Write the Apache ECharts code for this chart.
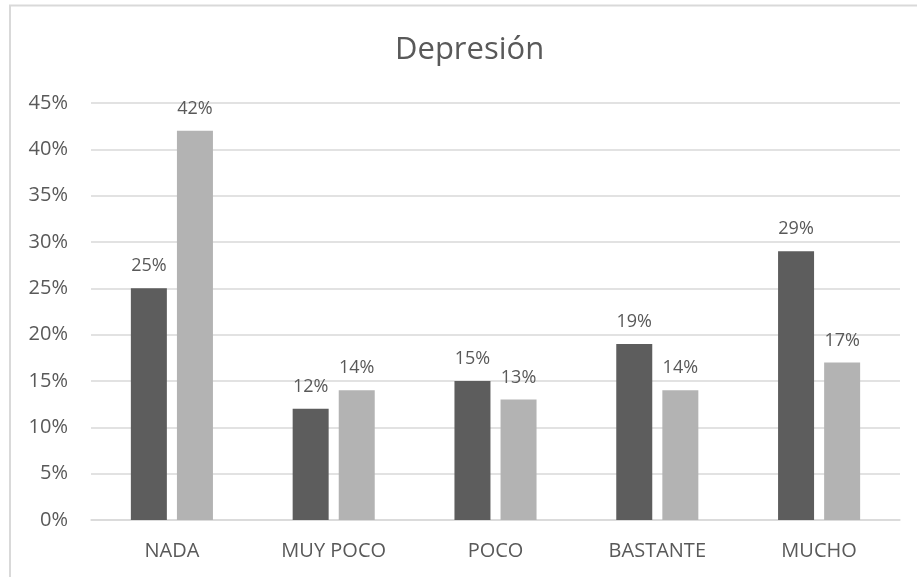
<!DOCTYPE html>
<html><head><meta charset="utf-8">
<script src="https://cdn.jsdelivr.net/npm/echarts@6/dist/echarts.min.js"></script>
<style>html,body{margin:0;padding:0;background:#fff}#c{width:917px;height:577px}</style>
</head><body><div id="c"></div>
<script>
const categories = ['NADA', 'MUY POCO', 'POCO', 'BASTANTE', 'MUCHO'];
const series1 = [25, 12, 15, 19, 29];
const series2 = [42, 14, 13, 14, 17];
const yTicks = {min: 0, max: 45, interval: 5};

const chart = echarts.init(document.getElementById('c'));
const txt = '#595959';
const font = 'Open Sans';
chart.setOption({
  animation: false,
  backgroundColor: '#fff',
  title: {text: 'Depresión', left: 390, top: 30,
    textStyle: {color: txt, fontFamily: font, fontSize: 31, fontWeight: 'normal'}},
  graphic: [{type: 'polyline', shape: {points: [[10, 577], [10, 5.5], [917, 5.5]]},
    style: {stroke: '#d9d9d9', lineWidth: 2, fill: null}}],
  grid: {left: 91, right: 17, top: 103, bottom: 57, containLabel: false},
  xAxis: {type: 'category', data: categories,
    axisLine: {lineStyle: {color: '#d9d9d9', width: 1.5}}, axisTick: {show: false},
    axisLabel: {color: txt, fontFamily: font, fontSize: 20, margin: 21}},
  yAxis: {type: 'value', min: yTicks.min, max: yTicks.max, interval: yTicks.interval,
    axisLine: {show: false}, axisTick: {show: false},
    splitLine: {lineStyle: {color: '#d9d9d9', width: 1.5}},
    axisLabel: {color: txt, fontFamily: font, fontSize: 20, margin: 23, formatter: '{value}%'}},
  series: [
    {type: 'bar', data: series1, barWidth: 36, barGap: '28%',
      itemStyle: {color: '#5d5d5d'},
      label: {show: true, position: 'top', distance: 13, formatter: '{c}%', color: txt, fontFamily: font, fontSize: 18}},
    {type: 'bar', data: series2, barWidth: 36,
      itemStyle: {color: '#b3b3b3'},
      label: {show: true, position: 'top', distance: 13, formatter: '{c}%', color: txt, fontFamily: font, fontSize: 18}}
  ]
});
</script></body></html>
